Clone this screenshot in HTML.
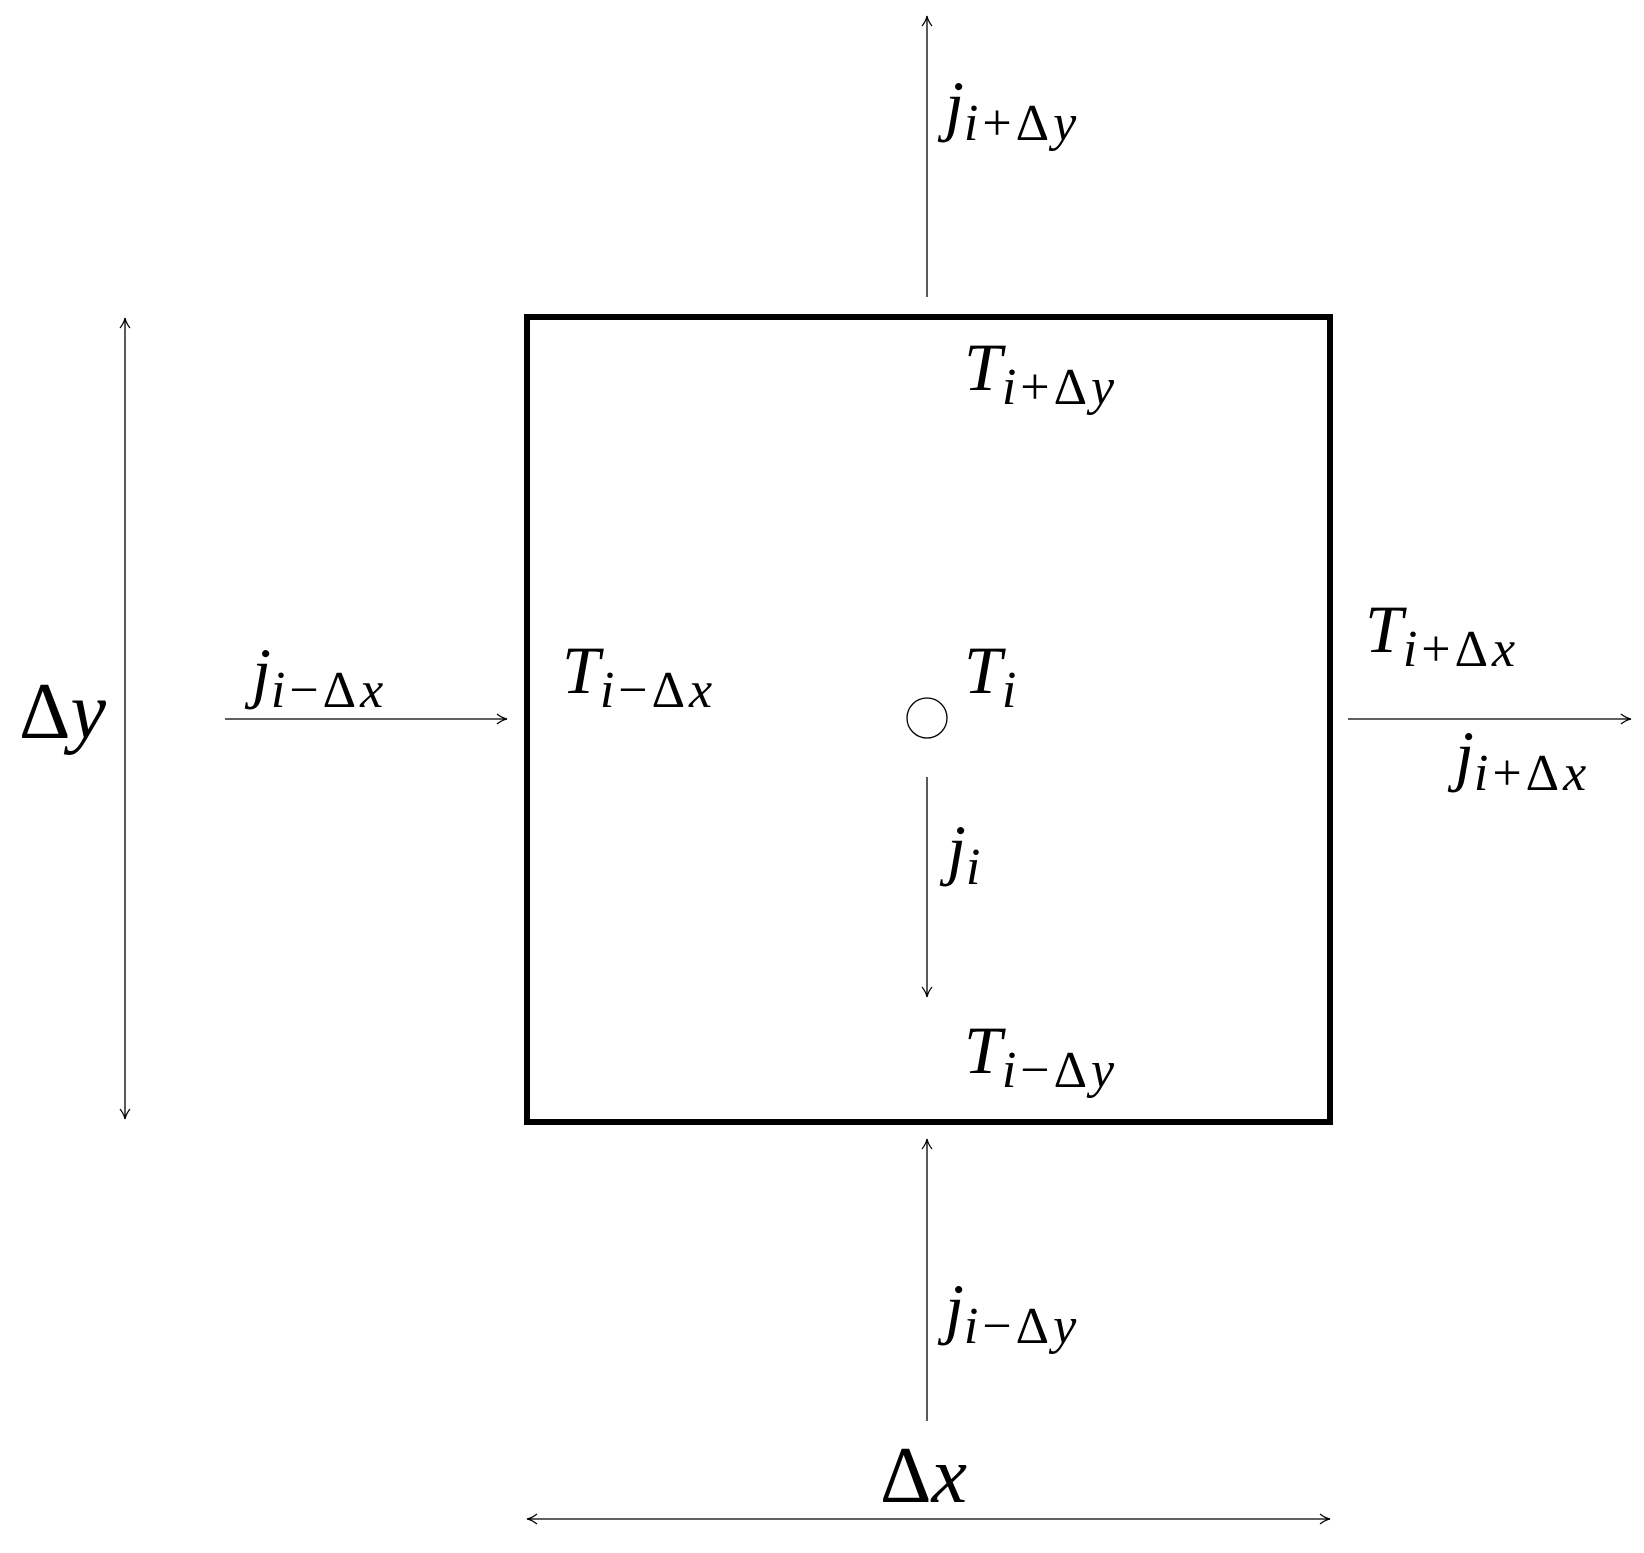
<!DOCTYPE html>
<html><head><style>
html,body{margin:0;padding:0;background:#fff;}
svg{display:block;}
text{font-family:"Liberation Serif",serif;fill:#000;}
.m{font-style:italic;}
.s{font-size:52px;letter-spacing:4px;}
</style></head><body>
<svg width="1644" height="1553" viewBox="0 0 1644 1553" xmlns="http://www.w3.org/2000/svg">
<defs>
<marker id="a" viewBox="0 0 12 12" refX="11" refY="6" markerWidth="12" markerHeight="12" markerUnits="userSpaceOnUse" orient="auto-start-reverse">
<path d="M1,1 Q6,5 11,6 Q6,7 1,11" fill="none" stroke="#000" stroke-width="1.2"/>
</marker>
</defs>
<g stroke="#000" stroke-width="1.3" fill="none">
<rect x="527" y="317" width="803" height="805" stroke-width="6"/>
<line x1="927" y1="297" x2="927" y2="16" marker-end="url(#a)"/>
<line x1="225" y1="719" x2="507" y2="719" marker-end="url(#a)"/>
<line x1="1348" y1="719" x2="1631" y2="719" marker-end="url(#a)"/>
<line x1="927" y1="777" x2="927" y2="997" marker-end="url(#a)"/>
<line x1="927" y1="1421" x2="927" y2="1139" marker-end="url(#a)"/>
<line x1="125" y1="318" x2="125" y2="1119" marker-start="url(#a)" marker-end="url(#a)"/>
<line x1="527" y1="1519" x2="1330" y2="1519" marker-start="url(#a)" marker-end="url(#a)"/>
<circle cx="927" cy="718" r="20"/>
</g>
<g font-size="68">
<text x="945" y="128"><tspan class="m">j</tspan><tspan class="s" dy="12"><tspan class="m">i</tspan>+Δ<tspan class="m">y</tspan></tspan></text>
<text x="964" y="390"><tspan class="m">T</tspan><tspan class="s" dy="14"><tspan class="m">i</tspan>+Δ<tspan class="m">y</tspan></tspan></text>
<text x="252" y="695"><tspan class="m">j</tspan><tspan class="s" dy="12"><tspan class="m">i</tspan>−Δ<tspan class="m">x</tspan></tspan></text>
<text x="562" y="693"><tspan class="m">T</tspan><tspan class="s" dy="14"><tspan class="m">i</tspan>−Δ<tspan class="m">x</tspan></tspan></text>
<text x="964" y="693"><tspan class="m">T</tspan><tspan class="s m" dy="14">i</tspan></text>
<text x="1365" y="652"><tspan class="m">T</tspan><tspan class="s" dy="14"><tspan class="m">i</tspan>+Δ<tspan class="m">x</tspan></tspan></text>
<text x="1455" y="778"><tspan class="m">j</tspan><tspan class="s" dy="12"><tspan class="m">i</tspan>+Δ<tspan class="m">x</tspan></tspan></text>
<text x="947" y="872"><tspan class="m">j</tspan><tspan class="s m" dy="12">i</tspan></text>
<text x="964" y="1073"><tspan class="m">T</tspan><tspan class="s" dy="14"><tspan class="m">i</tspan>−Δ<tspan class="m">y</tspan></tspan></text>
<text x="945" y="1331"><tspan class="m">j</tspan><tspan class="s" dy="12"><tspan class="m">i</tspan>−Δ<tspan class="m">y</tspan></tspan></text>
</g>
<text x="19" y="738" font-size="80">Δ<tspan class="m">y</tspan></text>
<text x="880" y="1502" font-size="80">Δ<tspan class="m">x</tspan></text>
</svg>
</body></html>
